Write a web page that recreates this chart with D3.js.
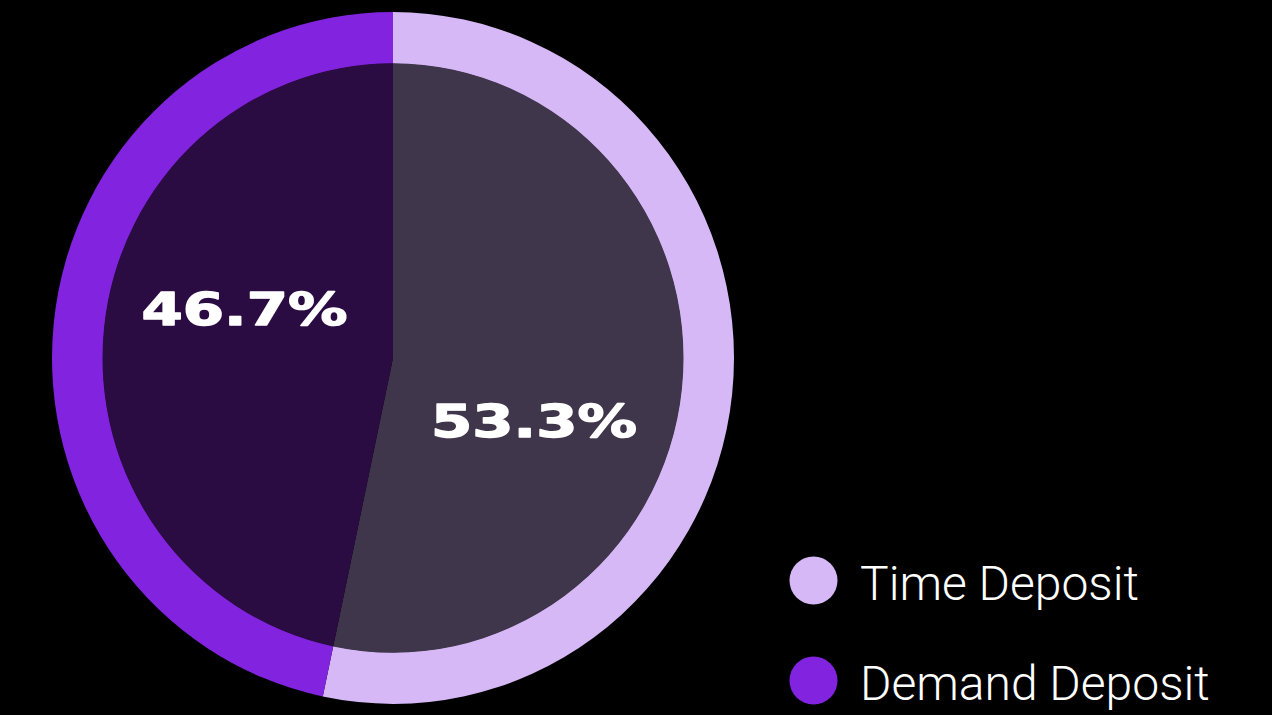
<!DOCTYPE html>
<html>
<head>
<meta charset="utf-8">
<script src="https://cdn.jsdelivr.net/npm/d3@7"></script>
<style>
  html, body { margin: 0; padding: 0; background: #000; }
  svg { display: block; }
</style>
</head>
<body>
<svg id="chart" width="1272" height="715"></svg>
<script>
// Deposit mix, in percent
const categories = ["Time Deposit", "Demand Deposit"];
const shares = [53.3, 46.7];
const ringColors = ["#d5b8f5", "#8223e0"];
const fillColors = ["#40364b", "#2a0b42"];

const W = 1272, H = 715;
const cx = 393, cy = 358;
const outerR = 341, innerR = 290.5;
const yStretch = 1.0145;

const svg = d3.select("#chart");
svg.append("rect").attr("width", W).attr("height", H).attr("fill", "#000");

const data = categories.map((c, i) => ({ name: c, value: shares[i], i }));

const pie = d3.pie().value(d => d.value).sort(null);
const arcs = pie(data);

const color = d3.scaleOrdinal().domain(categories).range(ringColors);
const fill = d3.scaleOrdinal().domain(categories).range(fillColors);

const g = svg.append("g")
  .attr("transform", `translate(${cx},${cy}) scale(1,${yStretch})`);

// outer ring
const ringArc = d3.arc().innerRadius(innerR - 0.5).outerRadius(outerR);
g.selectAll("path.ring").data(arcs).join("path")
  .attr("class", "ring")
  .attr("d", ringArc)
  .attr("fill", d => color(d.data.name));

// inner pie
const coreArc = d3.arc().innerRadius(0).outerRadius(innerR);
g.selectAll("path.core").data(arcs).join("path")
  .attr("class", "core")
  .attr("d", coreArc)
  .attr("fill", d => fill(d.data.name));

// percentage labels, set slightly clockwise of each slice's middle
const labelR = 155;
const labelTurn = 15 * Math.PI / 180;
const labelOrigin = [cx - 3.75, cy + 6.5];
const fmt = d => d3.format(".1f")(d) + "%";
const labelSize = 45;

svg.append("g").selectAll("text").data(arcs).join("text")
  .each(function (d) {
    const mid = (d.startAngle + d.endAngle) / 2 + labelTurn;
    const [px, py] = d3.pointRadial(mid, labelR);
    d3.select(this)
      .attr("x", labelOrigin[0] + px)
      .attr("y", labelOrigin[1] + py * yStretch + labelSize * 0.365);
  })
  .attr("text-anchor", "middle")
  .attr("font-family", "DejaVu Sans")
  .attr("font-weight", "bold")
  .attr("font-size", labelSize)
  .attr("fill", "#fff")
  .attr("stroke", "#fff")
  .attr("stroke-width", 1.4)
  .attr("stroke-linejoin", "round")
  .attr("textLength", 206)
  .attr("lengthAdjust", "spacingAndGlyphs")
  .text(d => fmt(d.data.value));

// legend
const legendY = d3.scalePoint().domain(categories).range([580.5, 680.5]);
const legend = svg.append("g");
const items = legend.selectAll("g").data(categories).join("g")
  .attr("transform", d => `translate(0,${legendY(d)})`);
items.append("circle")
  .attr("cx", 813.5)
  .attr("r", 24)
  .attr("fill", d => color(d));
items.append("text")
  .attr("x", 860)
  .attr("y", 19.5)
  .attr("font-family", "Roboto")
  .attr("font-weight", 300)
  .attr("font-size", 48)
  .attr("fill", "#fff")
  .text(d => d);
</script>
</body>
</html>
